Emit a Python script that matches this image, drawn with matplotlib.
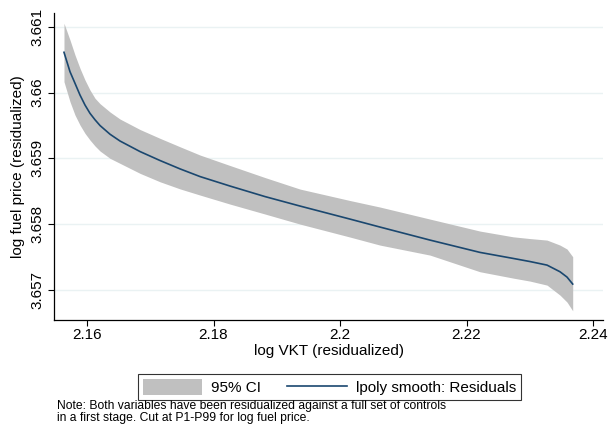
import matplotlib.pyplot as plt
from matplotlib.patches import Patch
from matplotlib.lines import Line2D

plt.rcParams['font.family'] = ['Liberation Sans', 'DejaVu Sans']

# values
vkt = [2.15636, 2.15731, 2.15810, 2.15889, 2.15968, 2.16047, 2.16127, 2.16206,
       2.16364, 2.16522, 2.16838, 2.17154, 2.17470, 2.17787, 2.18261, 2.18814,
       2.19368, 2.20158, 2.20632, 2.21423, 2.22213, 2.22735, 2.23004, 2.23273,
       2.23478, 2.23589, 2.23679]
fit = [3.660611, 3.660316, 3.660140, 3.659962, 3.659810, 3.659684, 3.659585, 3.659498,
       3.659366, 3.659263, 3.659103, 3.658967, 3.658840, 3.658723, 3.658579, 3.658419,
       3.658275, 3.658077, 3.657956, 3.657758, 3.657571, 3.657480, 3.657432, 3.657378,
       3.657277, 3.657196, 3.657090]
ci_hi = [3.661052, 3.660798, 3.660570, 3.660368, 3.660190, 3.660038, 3.659912, 3.659830,
         3.659704, 3.659597, 3.659438, 3.659304, 3.659176, 3.659050, 3.658891, 3.658708,
         3.658533, 3.658359, 3.658260, 3.658077, 3.657895, 3.657808, 3.657781, 3.657758,
         3.657682, 3.657622, 3.657505]
ci_lo = [3.660164, 3.659860, 3.659658, 3.659506, 3.659380, 3.659278, 3.659187, 3.659111,
         3.659000, 3.658924, 3.658772, 3.658644, 3.658536, 3.658442, 3.658305, 3.658154,
         3.658001, 3.657804, 3.657682, 3.657530, 3.657277, 3.657181, 3.657135, 3.657074,
         3.656922, 3.656816, 3.656684]

xticks = [2.16, 2.18, 2.2, 2.22, 2.24]
xlabels = ["2.16", "2.18", "2.2", "2.22", "2.24"]
yticks = [3.657, 3.658, 3.659, 3.66, 3.661]
ylabels = ["3.657", "3.658", "3.659", "3.66", "3.661"]

band_col = "#c0c0c0"
line_col = "#1a476f"

fig = plt.figure(figsize=(6.1, 4.37), dpi=100)
ax = fig.add_axes([54 / 610, 117 / 437, 549 / 610, 307 / 437])

ax.fill_between(vkt, ci_lo, ci_hi, color=band_col, lw=0, zorder=2)
ax.plot(vkt, fit, color=line_col, lw=1.2, zorder=3)

ax.set_xlim(2.15478, 2.24158)
ax.set_ylim(3.656544, 3.661208)
ax.set_xticks(xticks, xlabels)
ax.set_yticks(yticks, ylabels)
ax.tick_params(axis='y', labelrotation=90, labelsize=11, length=4, width=0.8, pad=3)
ax.tick_params(axis='x', labelsize=11, length=4, width=0.8, pad=2)
for lab in ax.get_yticklabels():
    lab.set_va('center')
ax.grid(axis='y', color='#eaf2f3', lw=1, zorder=0)
ax.set_axisbelow(True)
for s in ['top', 'right']:
    ax.spines[s].set_visible(False)
for s in ['left', 'bottom']:
    ax.spines[s].set_linewidth(0.9)

ax.set_xlabel("log VKT (residualized)", fontsize=11, labelpad=1)
ax.set_ylabel("log fuel price (residualized)", fontsize=11, labelpad=4)

handles = [Patch(facecolor=band_col, edgecolor='none'),
           Line2D([], [], color=line_col, lw=1.2)]
leg = fig.legend(handles, ["95% CI", "lpoly smooth: Residuals"], ncol=2,
                 loc='center', bbox_to_anchor=(329.5 / 610, 1 - 387 / 437),
                 fontsize=11, frameon=True, fancybox=False, edgecolor='black',
                 handlelength=3.9, handleheight=1.2, handletextpad=0.6,
                 columnspacing=1.7, borderpad=0.3, borderaxespad=0)
leg.get_frame().set_linewidth(0.8)

fig.text(57 / 610, 1 - 400 / 437,
         "Note: Both variables have been residualized against a full set of controls\n"
         "in a first stage. Cut at P1-P99 for log fuel price.",
         fontsize=8.7, va='top', ha='left', linespacing=1.0)

fig.savefig("out.png", dpi=100)
